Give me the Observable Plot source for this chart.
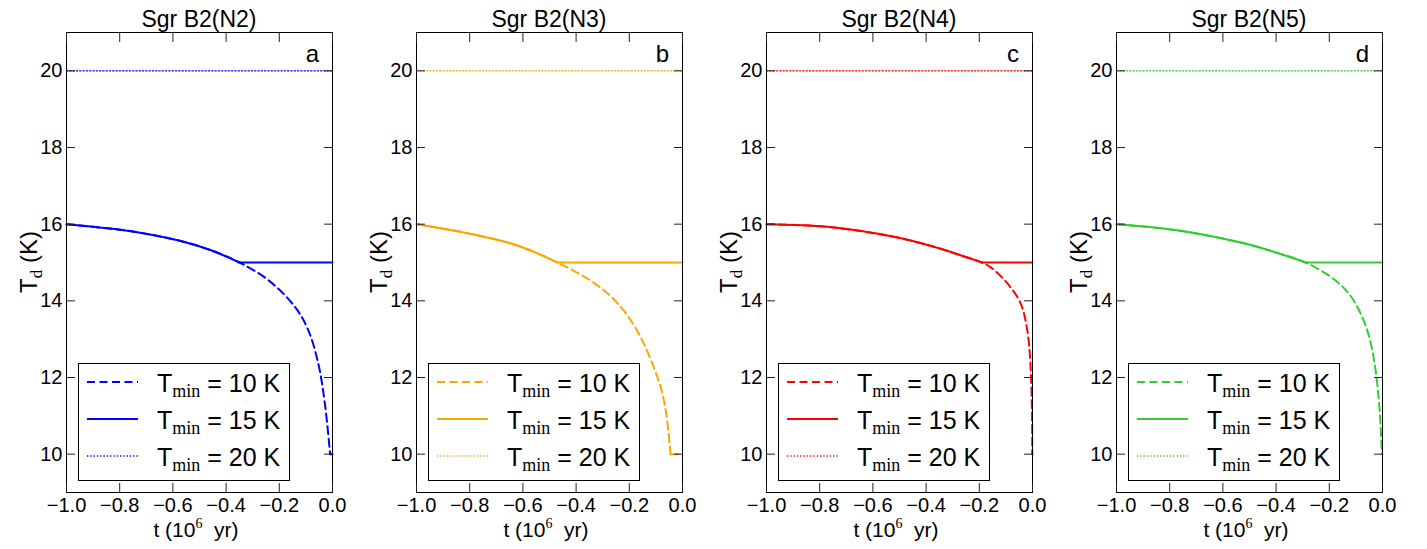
<!DOCTYPE html>
<html><head><meta charset="utf-8">
<script src="https://cdn.jsdelivr.net/npm/d3@7"></script>
<script src="https://cdn.jsdelivr.net/npm/@observablehq/plot@0.6"></script>
<style>
html,body{margin:0;padding:0;background:#fff;}
#chart{position:relative;width:1427px;height:549px;overflow:hidden;background:#fff;}
#chart svg{position:absolute;top:0;}
</style></head><body><div id="chart"></div>
<script>
// ---- data ----
const panelTitles = ["Sgr B2(N2)", "Sgr B2(N3)", "Sgr B2(N4)", "Sgr B2(N5)"];
const panelLetters = ["a", "b", "c", "d"];
const panelColors = ["#0000ff", "#ffa500", "#ff0000", "#32cd32"];
const tminValues = [10, 15, 20];
const xTicks = [-1.0, -0.8, -0.6, -0.4, -0.2, 0.0];
const yTicks = [10, 12, 14, 16, 18, 20];

// time (10^6 yr) and dust temperature (K) of the unclamped cooling curve, per source
const tN2  = [-1.0, -0.9, -0.771, -0.582, -0.457, -0.35, -0.243, -0.142, -0.092, -0.054, -0.029, -0.009];
const TdN2 = [16.0, 15.93, 15.83, 15.58, 15.32, 15.0, 14.55, 13.85, 13.25, 12.38, 11.34, 10.0];

const tN3  = [-1.0, -0.835, -0.647, -0.546, -0.471, -0.40, -0.333, -0.27, -0.208, -0.15, -0.11, -0.08, -0.06, -0.045];
const TdN3 = [16.0, 15.80, 15.50, 15.24, 15.0, 14.75, 14.47, 14.12, 13.63, 12.95, 12.3, 11.7, 11.0, 10.0];

const tN4  = [-1.0, -0.772, -0.521, -0.371, -0.271, -0.19, -0.158, -0.095, -0.045, -0.020, -0.008, -0.002, -0.001];
const TdN4 = [16.0, 15.93, 15.67, 15.41, 15.19, 15.0, 14.88, 14.46, 13.94, 13.25, 12.38, 11.08, 10.0];

const tN5  = [-1.0, -0.772, -0.521, -0.396, -0.289, -0.18, -0.117, -0.067, -0.042, -0.023, -0.011, -0.002];
const TdN5 = [16.0, 15.84, 15.50, 15.25, 15.0, 14.55, 14.1, 13.42, 12.83, 12.03, 11.17, 10.0];

const panelT = [tN2, tN3, tN4, tN5];
const panelTd = [TdN2, TdN3, TdN4, TdN5];

// ---- build ----
const FONT = "Liberation Sans, Arial, sans-serif";
const SERIF = "Liberation Serif, Times New Roman, serif";
const lineStyles = {
  10: {strokeWidth: 2, strokeDasharray: "8,4.5"},
  15: {strokeWidth: 2, strokeDasharray: null},
  20: {strokeWidth: 1.3, strokeDasharray: "1.3,2"}
};

function curvePart(t, T, tmin) {
  const pts = [];
  for (let i = 0; i < t.length; i++) if (T[i] >= tmin) pts.push({t: t[i], T: T[i]});
  return pts;
}
function flatPart(t, T, tmin) {
  const c = curvePart(t, T, tmin);
  const start = c.length ? c[c.length - 1].t : xTicks[0];
  return [{t: start, T: tmin}, {t: xTicks[xTicks.length - 1], T: tmin}];
}

const chart = document.getElementById("chart");
panelTitles.forEach((title, i) => {
  const color = panelColors[i];
  const lines = [];
  tminValues.forEach(tm => {
    const st = {stroke: color, strokeWidth: lineStyles[tm].strokeWidth, strokeDasharray: lineStyles[tm].strokeDasharray};
    const c = curvePart(panelT[i], panelTd[i], tm);
    if (c.length) lines.push(Plot.line(c, {x: "t", y: "T", curve: "catmull-rom", ...st}));
    lines.push(Plot.line(flatPart(panelT[i], panelTd[i], tm), {x: "t", y: "T", ...st}));
  });
  const svg = Plot.plot({
    width: 350, height: 549,
    marginLeft: 66, marginRight: 18, marginTop: 32, marginBottom: 57,
    style: {fontFamily: FONT, fontSize: "20px", color: "#000", background: "#fff"},
    x: {domain: [-1, 0]},
    y: {domain: [9, 21]},
    marks: [
      ...lines,
      Plot.frame({stroke: "#000", strokeWidth: 1}),
      Plot.axisX({anchor: "bottom", ticks: xTicks, tickSize: -9, tickPadding: 14, tickFormat: d3.format(".1f"), label: null, fontSize: 20, stroke: "#222"}),
      Plot.axisX({anchor: "top", ticks: xTicks, tickSize: -9, tickFormat: () => "", label: null, stroke: "#222"}),
      Plot.axisY({anchor: "left", ticks: yTicks, tickSize: -9, tickPadding: 13, tickFormat: d => String(d), label: null, fontSize: 20, stroke: "#222"}),
      Plot.axisY({anchor: "right", ticks: yTicks, tickSize: -9, tickFormat: () => "", label: null, stroke: "#222"}),
      Plot.frame({insetLeft: 12, insetRight: 43, insetTop: 331, insetBottom: 12, fill: "white", stroke: "#000", strokeWidth: 1})
    ]
  });
  svg.style.left = (350 * i) + "px";
  chart.appendChild(svg);

  const xr = svg.scale("x").range, yr = svg.scale("y").range;
  const left = Math.min(...xr), right = Math.max(...xr);
  const top = Math.min(...yr), bottom = Math.max(...yr);
  const cx = (left + right) / 2, cy = (top + bottom) / 2;
  const s = d3.select(svg);

  // title
  s.append("text").attr("x", cx).attr("y", top - 5).attr("text-anchor", "middle")
    .attr("font-family", FONT).attr("font-size", 23).attr("fill", "#000").text(title);
  // panel letter
  s.append("text").attr("x", right - 13).attr("y", top + 30).attr("text-anchor", "end")
    .attr("font-family", FONT).attr("font-size", 24).attr("fill", "#000").text(panelLetters[i]);
  // y label
  const yl = s.append("text").attr("transform", `translate(${left - 29},${cy}) rotate(-90)`)
    .attr("text-anchor", "middle").attr("font-family", FONT).attr("font-size", 24).attr("fill", "#000");
  yl.append("tspan").text("T");
  yl.append("tspan").attr("font-family", SERIF).attr("font-size", 17).attr("dy", 5).text("d");
  yl.append("tspan").attr("dy", -5).text(" (K)");
  // x label
  const xl = s.append("text").attr("x", cx - 3).attr("y", bottom + 45).attr("text-anchor", "middle")
    .attr("font-family", FONT).attr("font-size", 21).attr("fill", "#000").style("white-space", "pre");
  xl.append("tspan").text("t (10");
  xl.append("tspan").attr("font-family", SERIF).attr("font-size", 14).attr("dy", -9).text("6");
  xl.append("tspan").attr("dy", 9).text("  yr)");

  // legend
  const rowsY = [bottom - 110, bottom - 73, bottom - 36];
  tminValues.forEach((tm, j) => {
    const ly = rowsY[j];
    s.append("line").attr("x1", left + 21).attr("x2", left + 72).attr("y1", ly).attr("y2", ly)
      .attr("stroke", color).attr("stroke-width", lineStyles[tm].strokeWidth)
      .attr("stroke-dasharray", lineStyles[tm].strokeDasharray);
    const tx = s.append("text").attr("x", left + 91).attr("y", ly + 9.5).attr("text-anchor", "start")
      .attr("font-family", FONT).attr("font-size", 25).attr("fill", "#000").style("white-space", "pre");
    tx.append("tspan").text("T");
    tx.append("tspan").attr("font-family", SERIF).attr("font-size", 18).attr("dy", 5).text("min");
    tx.append("tspan").attr("dy", -5).text(` = ${tm} K`);
  });
});
</script>
</body></html>
